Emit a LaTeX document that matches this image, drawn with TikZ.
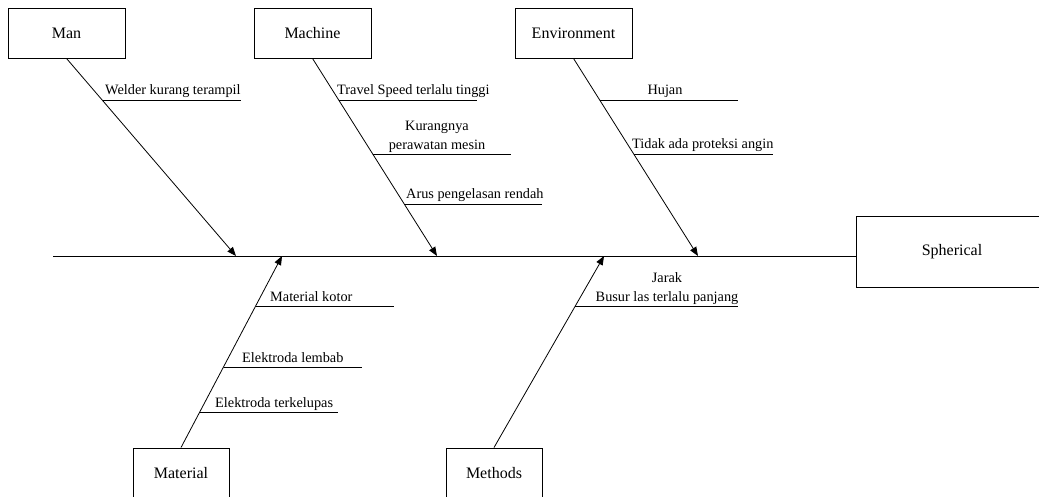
\documentclass[tikz,border=0pt]{standalone}
\usepackage{fontspec}
\setmainfont{Liberation Serif}
\usetikzlibrary{arrows.meta}
\begin{document}
\begin{tikzpicture}[x=1pt,y=-1pt,
  catbox/.style={draw, line width=0.9pt, inner sep=0pt, font=\fontsize{16}{19}\selectfont},
  bone/.style={line width=0.8pt, -{Triangle[length=9pt,width=7pt]}},
  twig/.style={line width=0.8pt},
  causeL/.style={anchor=base west, inner sep=0pt, font=\fontsize{14.3}{19}\selectfont},
  causeC/.style={anchor=south, inner sep=0pt, align=center, font=\fontsize{14.3}{19}\selectfont}
]
\useasboundingbox (0,0) rectangle (1039,497);
\begin{scope}
\clip (0,0) rectangle (1039,497);

% category boxes
\node[catbox, minimum width=117pt, minimum height=50pt] (man) at (66.5,33) {Man};
\node[catbox, minimum width=117pt, minimum height=50pt] (machine) at (312.5,33) {Machine};
\node[catbox, minimum width=117pt, minimum height=50pt] (env) at (573.5,33) {Environment};
\node[catbox, minimum width=96pt, minimum height=51pt] (material) at (181,473.5) {Material};
\node[catbox, minimum width=96pt, minimum height=51pt] (methods) at (494,473.5) {Methods};
\node[catbox, minimum width=192pt, minimum height=71pt] (sph) at (952,251.5) {Spherical};

% spine
\coordinate (s0) at (53,256);
\draw[line width=0.9pt] (s0) -- (s0 -| sph.west);

% tips of the main bones on the spine
\coordinate (tMan) at (236,256);
\coordinate (tMachine) at (437,256);
\coordinate (tEnv) at (698,256);
\coordinate (tMaterial) at (282,256);
\coordinate (tMethods) at (604,256);

\draw[bone] (man.south) -- (tMan);
\draw[bone] (machine.south) -- (tMachine);
\draw[bone] (env.south) -- (tEnv);
\draw[bone] (material.north) -- (tMaterial);
\draw[bone] (methods.north) -- (tMethods);

% Man
\coordinate (a1) at (102.8,100); \coordinate (b1) at (241,100);
\draw[twig] (a1) -- (b1);
\node[causeL] (t1) at (105,95) {Welder kurang terampil};

% Machine
\coordinate (a2) at (338.5,100); \coordinate (b2) at (477,100);
\draw[twig] (a2) -- (b2);
\node[causeL] (t2) at (337,95) {Travel Speed terlalu tinggi};

\coordinate (a3) at (372.6,154); \coordinate (b3) at (511,154);
\draw[twig] (a3) -- (b3);
\node[causeC] (t3) at (437,153) {Kurangnya\\perawatan mesin};

\coordinate (a4) at (404,204); \coordinate (b4) at (542,204);
\draw[twig] (a4) -- (b4);
\node[causeL] (t4) at (406,199) {Arus pengelasan rendah};

% Environment
\coordinate (a5) at (599.5,100); \coordinate (b5) at (738,100);
\draw[twig] (a5) -- (b5);
\node[causeL, anchor=base] (t5) at (665,95) {Hujan};

\coordinate (a6) at (633.6,154); \coordinate (b6) at (773,154);
\draw[twig] (a6) -- (b6);
\node[causeL] (t6) at (632,149) {Tidak ada proteksi angin};

% Material
\coordinate (a7) at (255.7,306); \coordinate (b7) at (394,306);
\draw[twig] (a7) -- (b7);
\node[causeL] (t7) at (270,301) {Material kotor};

\coordinate (a8) at (223.6,367); \coordinate (b8) at (362,367);
\draw[twig] (a8) -- (b8);
\node[causeL] (t8) at (242,362) {Elektroda lembab};

\coordinate (a9) at (199.9,412); \coordinate (b9) at (338,412);
\draw[twig] (a9) -- (b9);
\node[causeL] (t9) at (215,407) {Elektroda terkelupas};

% Methods
\coordinate (a10) at (575.4,306); \coordinate (b10) at (738,306);
\draw[twig] (a10) -- (b10);
\node[causeC] (t10) at (667,305) {Jarak\\Busur las terlalu panjang};
\end{scope}
\end{tikzpicture}
\end{document}
